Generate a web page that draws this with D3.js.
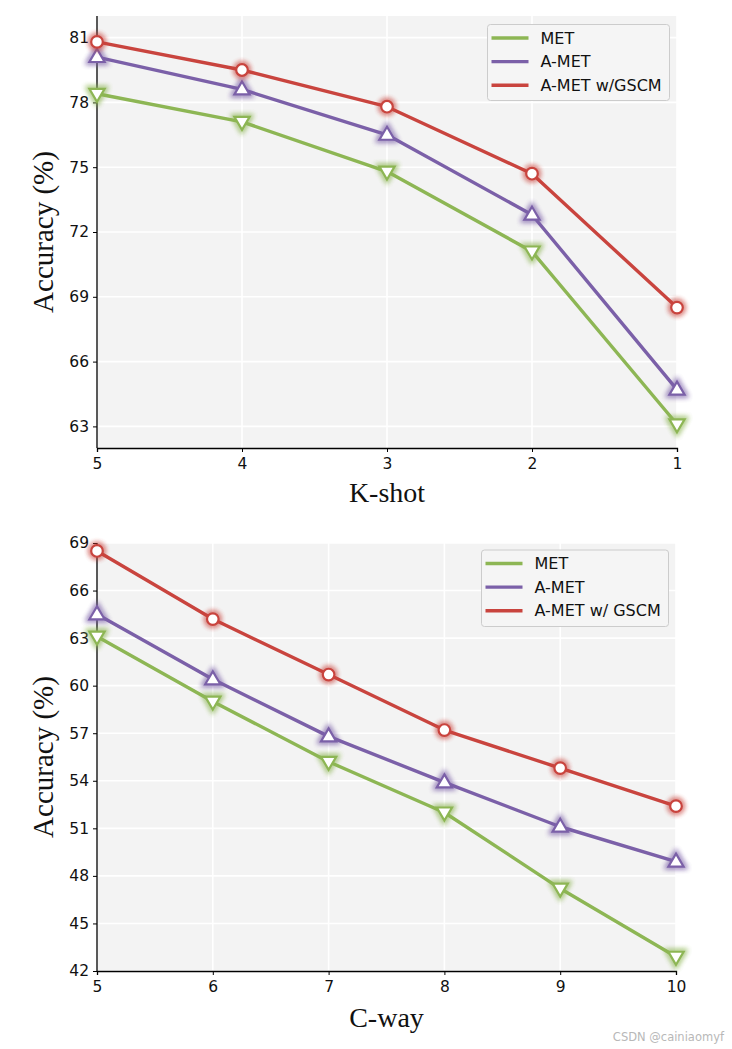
<!DOCTYPE html>
<html>
<head>
<meta charset="utf-8">
<script src="https://cdn.jsdelivr.net/npm/d3@7"></script>
<style>
  html, body { margin: 0; padding: 0; background: #ffffff; }
  svg { display: block; }
</style>
</head>
<body>
<svg id="chart" width="732" height="1049"></svg>
<script>
// ---------- data ----------
const seriesNames = ["MET", "A-MET", "A-MET w/GSCM"];
const seriesNamesBottom = ["MET", "A-MET", "A-MET w/ GSCM"];

const kShot = [5, 4, 3, 2, 1];
const kShotMET = [78.4, 77.1, 74.8, 71.1, 63.1];
const kShotAMET = [80.1, 78.6, 76.5, 72.8, 64.7];
const kShotGSCM = [80.8, 79.5, 77.8, 74.7, 68.5];
const kShotYTicks = [63, 66, 69, 72, 75, 78, 81];

const cWay = [5, 6, 7, 8, 9, 10];
const cWayMET = [63.1, 59.0, 55.2, 52.0, 47.2, 42.9];
const cWayAMET = [64.5, 60.4, 56.8, 53.9, 51.1, 48.9];
const cWayGSCM = [68.5, 64.2, 60.7, 57.2, 54.8, 52.4];
const cWayYTicks = [42, 45, 48, 51, 54, 57, 60, 63, 66, 69];

// ---------- style ----------
const colors = ["#8db654", "#7b60a8", "#c9443e"];
const markers = ["triDown", "triUp", "circle"];

const svg = d3.select("#chart");
const defs = svg.append("defs");
colors.forEach((c, i) => {
  const f = defs.append("filter").attr("id", "glow" + i)
    .attr("x", "-100%").attr("y", "-100%").attr("width", "300%").attr("height", "300%");
  f.append("feGaussianBlur").attr("in", "SourceGraphic").attr("stdDeviation", 2.4).attr("result", "b");
  const m = f.append("feMerge");
  m.append("feMergeNode").attr("in", "b");
  m.append("feMergeNode").attr("in", "b");
});

function markerPath(type) {
  if (type === "circle") return d3.symbol().type(d3.symbolCircle).size(Math.PI * 5.8 * 5.8)();
  const s = 8;
  if (type === "triUp") return `M0,${-s}L${s * 0.95},${s * 0.62}L${-s * 0.95},${s * 0.62}Z`;
  return `M0,${s}L${s * 0.95},${-s * 0.62}L${-s * 0.95},${-s * 0.62}Z`;
}

function drawPanel(opt) {
  const g = svg.append("g");
  const x = d3.scaleLinear().domain(opt.xDomain).range([opt.left, opt.right]);
  const y = d3.scaleLinear().domain(opt.yDomain).range([opt.bottom, opt.top]);

  // background
  g.append("rect")
    .attr("x", opt.left).attr("y", opt.top)
    .attr("width", opt.right - opt.left).attr("height", opt.bottom - opt.top)
    .attr("fill", "#f3f3f3");

  // grid
  g.append("g").selectAll("line").data(opt.yTicks).join("line")
    .attr("x1", opt.left).attr("x2", opt.right)
    .attr("y1", d => y(d)).attr("y2", d => y(d))
    .attr("stroke", "#ffffff").attr("stroke-width", 1.6);
  g.append("g").selectAll("line").data(opt.xValues).join("line")
    .attr("y1", opt.top).attr("y2", opt.bottom)
    .attr("x1", d => x(d)).attr("x2", d => x(d))
    .attr("stroke", "#ffffff").attr("stroke-width", 1.6);

  // axes
  const yAxis = d3.axisLeft(y).tickValues(opt.yTicks).tickSize(4).tickPadding(4).tickFormat(d3.format("d"));
  const xAxis = d3.axisBottom(x).tickValues(opt.xValues).tickSize(4).tickPadding(6).tickFormat(d3.format("d"));
  const ya = g.append("g").attr("transform", `translate(${opt.left},0)`).call(yAxis);
  const xa = g.append("g").attr("transform", `translate(0,${opt.bottom})`).call(xAxis);
  [ya, xa].forEach(a => {
    a.select(".domain").attr("stroke", "#000").attr("stroke-width", 1.3);
    a.selectAll(".tick line").attr("stroke", "#000").attr("stroke-width", 1);
    a.selectAll(".tick text").attr("fill", "#111")
      .style("font-family", "'DejaVu Sans', sans-serif").style("font-size", "15.5px");
  });
  ya.select(".domain").attr("d", `M0,${opt.top}V${opt.bottom}`);

  // lines + markers
  opt.series.forEach((vals, i) => {
    const pts = opt.xValues.map((xv, j) => [xv, vals[j]]);
    g.append("path").datum(pts)
      .attr("d", d3.line().x(d => x(d[0])).y(d => y(d[1])))
      .attr("fill", "none").attr("stroke", colors[i]).attr("stroke-width", 3.4)
      .attr("stroke-linejoin", "round");
  });
  opt.series.forEach((vals, i) => {
    const pts = opt.xValues.map((xv, j) => [xv, vals[j]]);
    const mg = g.append("g");
    mg.selectAll("path.glow").data(pts).join("path")
      .attr("class", "glow")
      .attr("transform", d => `translate(${x(d[0])},${y(d[1])})`)
      .attr("d", markerPath(markers[i]))
      .attr("fill", "none").attr("stroke", colors[i]).attr("stroke-width", 5)
      .attr("opacity", 0.6)
      .attr("filter", `url(#glow${i})`);
    mg.selectAll("path.mk").data(pts).join("path")
      .attr("class", "mk")
      .attr("transform", d => `translate(${x(d[0])},${y(d[1])})`)
      .attr("d", markerPath(markers[i]))
      .attr("fill", "#ffffff").attr("stroke", colors[i]).attr("stroke-width", 2.2)
      .attr("stroke-linejoin", "miter");
  });

  // axis labels
  g.append("text")
    .attr("x", (opt.left + opt.right) / 2).attr("y", opt.xLabelY)
    .attr("text-anchor", "middle")
    .style("font-family", "'Liberation Serif', 'Times New Roman', serif").style("font-size", "28px")
    .attr("fill", "#111")
    .text(opt.xLabel);
  g.append("text")
    .attr("transform", `translate(${opt.yLabelX},${(opt.top + opt.bottom) / 2}) rotate(-90)`)
    .attr("text-anchor", "middle")
    .style("font-family", "'Liberation Serif', 'Times New Roman', serif").style("font-size", "29px")
    .attr("fill", "#111")
    .text("Accuracy (%)");

  // legend
  const L = opt.legend;
  g.append("rect")
    .attr("x", L.x).attr("y", L.y).attr("width", L.w).attr("height", L.h)
    .attr("rx", 3).attr("fill", "#f5f5f5").attr("stroke", "#cccccc").attr("stroke-width", 1);
  opt.names.forEach((n, i) => {
    const yy = L.y + 13.5 + i * 23.6;
    g.append("line")
      .attr("x1", L.x + 4).attr("x2", L.x + 41)
      .attr("y1", yy).attr("y2", yy)
      .attr("stroke", colors[i]).attr("stroke-width", 3.4);
    g.append("text")
      .attr("x", L.x + 53).attr("y", yy).attr("dy", "0.36em")
      .style("font-family", "'DejaVu Sans', sans-serif").style("font-size", "16px")
      .attr("fill", "#111")
      .text(n);
  });
}

drawPanel({
  left: 97, right: 677, top: 16, bottom: 448,
  xDomain: [5, 1], yDomain: [62, 82],
  xValues: kShot, yTicks: kShotYTicks,
  series: [kShotMET, kShotAMET, kShotGSCM],
  names: seriesNames,
  xLabel: "K-shot", xLabelY: 502, yLabelX: 53,
  legend: { x: 487.5, y: 24.5, w: 182, h: 76 }
});

drawPanel({
  left: 97, right: 676, top: 543, bottom: 971,
  xDomain: [5, 10], yDomain: [42, 69],
  xValues: cWay, yTicks: cWayYTicks,
  series: [cWayMET, cWayAMET, cWayGSCM],
  names: seriesNamesBottom,
  xLabel: "C-way", xLabelY: 1027, yLabelX: 53,
  legend: { x: 481.5, y: 550, w: 187, h: 76.5 }
});

svg.append("text")
  .attr("x", 724).attr("y", 1041).attr("text-anchor", "end")
  .style("font-family", "'DejaVu Sans', sans-serif").style("font-size", "11.5px")
  .attr("fill", "#b8b8b8")
  .text("CSDN @cainiaomyf");
</script>
</body>
</html>
